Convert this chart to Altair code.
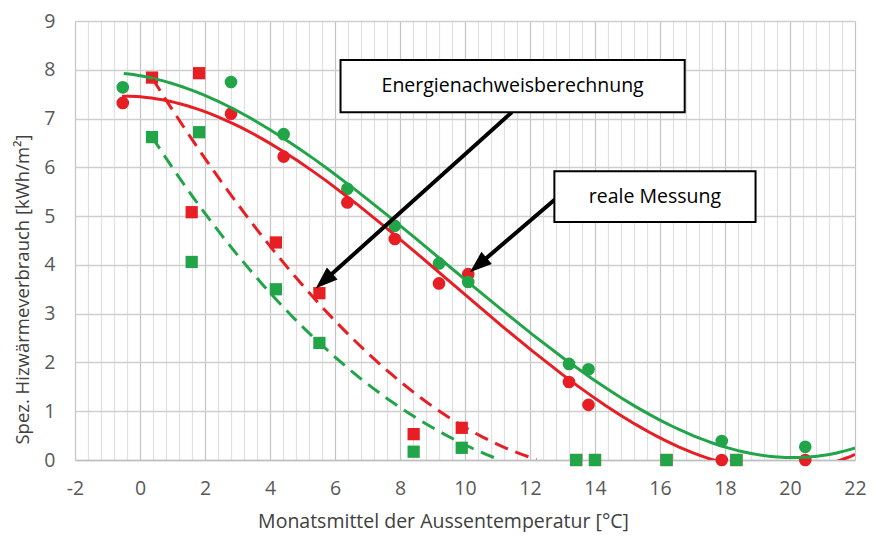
import math
import altair as alt
import pandas as pd

# ---------------- data ----------------
# monthly points "reale Messung" (circles)
meas_x = [-0.53, 2.8, 4.42, 6.38, 7.84, 9.2, 10.1, 13.2, 13.8, 17.9, 20.47]
meas_green = [7.64, 7.75, 6.68, 5.56, 4.8, 4.03, 3.65, 1.97, 1.86, 0.39, 0.27]
meas_red = [7.32, 7.1, 6.22, 5.28, 4.53, 3.62, 3.81, 1.6, 1.13, 0.0, 0.0]

# monthly points "Energienachweisberechnung" (squares)
calc_x = [0.37, 1.82, 1.59, 4.18, 5.52, 8.42, 9.9, 13.42, 14.0, 16.2, 18.35]
calc_green = [6.62, 6.72, 4.06, 3.5, 2.4, 0.17, 0.25, 0.0, 0.0, 0.0, 0.0]
calc_red = [7.84, 7.93, 5.08, 4.46, 3.42, 0.53, 0.66, 0.0, 0.0, 0.0, 0.0]

# points (smoothed by a cubic regression)
trend_meas_green_x = [-0.5, 0.4, 1.5, 2.8, 3.3, 4.4, 5.5, 6.4, 7.9, 9.2, 10.1, 12.0, 13.2, 14.0, 16.0, 18.0, 19.0, 20.2, 21.0, 22.0]
trend_meas_green_y = [7.89, 7.83, 7.62, 7.22, 7.03, 6.72, 6.17, 5.57, 4.78, 4.05, 3.7, 2.66, 2.0, 1.64, 0.82, 0.27, 0.11, 0.05, 0.09, 0.24]

trend_meas_red_x = [-0.55, 0.4, 1.5, 2.8, 3.8, 4.4, 5.5, 6.4, 7.9, 9.2, 10.1, 11.3, 13.2, 14.0, 16.0, 17.6, 21.6, 22.0]
trend_meas_red_y = [7.4, 7.37, 7.28, 7.12, 6.62, 6.3, 5.76, 5.31, 4.56, 3.83, 3.35, 2.66, 1.6, 1.27, 0.55, 0.0, 0.0, 0.1]

trend_calc_green_x = [0.37, 0.5, 1.4, 2.1, 2.6, 3.94, 5.5, 6.17, 8.53, 9.54, 11.1]
trend_calc_green_y = [6.62, 6.5, 5.6, 4.98, 4.5, 3.48, 2.4, 2.05, 0.82, 0.47, 0.0]

trend_calc_red_x = [0.39, 0.66, 1.4, 2.1, 3.11, 4.0, 5.25, 7.09, 8.84, 10.58, 12.2]
trend_calc_red_y = [7.83, 7.52, 6.75, 6.05, 5.18, 4.45, 3.38, 2.05, 1.23, 0.47, 0.0]

# annotations (data coordinates)
box_text = ["Energienachweisberechnung", "reale Messung"]
box_x1 = [6.17, 12.75]
box_x2 = [16.76, 18.94]
box_y1 = [7.13, 4.88]
box_y2 = [8.2, 5.92]

arrow_x_start = [11.44, 12.82]
arrow_y_start = [7.13, 5.37]
arrow_x_tip = [5.41, 10.15]
arrow_y_tip = [3.52, 3.85]

x_labels = [-2, 0, 2, 4, 6, 8, 10, 12, 14, 16, 18, 20, 22]
y_labels = [0, 1, 2, 3, 4, 5, 6, 7, 8, 9]
x_grid = [round(-2 + 0.4 * i, 1) for i in range(61)]

RED = "#E81E25"
GREEN = "#21A548"
FONT = "Open Sans"
W, H = 780, 439

# ---------------- scales / axes ----------------
xs = alt.Scale(domain=[-2, 22], nice=False, zero=False)
ys = alt.Scale(domain=[0, 9], nice=False, zero=False)

xaxis = alt.Axis(
    values=x_grid,
    labelExpr="datum.value % 2 === 0 ? '' + datum.value : ''",
    labelFlush=False,
    labelOverlap=False,
    labelFont=FONT,
    labelFontSize=19.5,
    labelColor="#595959",
    labelPadding=19,
    ticks=False,
    domain=True,
    domainColor="#bfbfbf",
    domainWidth=1.5,
    grid=True,
    gridColor={"condition": {"test": "datum.value % 2 === 0", "value": "#c4c4c4"}, "value": "#e0e0e0"},
    gridWidth=1.2,
    title="Monatsmittel der Aussentemperatur [°C]",
    titleFont=FONT,
    titleFontSize=19.5,
    titleFontWeight="normal",
    titleColor="#404040",
    titleX=368,
    titleY=67,
    titleBaseline="alphabetic",
    titleAlign="center",
)
yaxis = alt.Axis(
    values=y_labels,
    labelFont=FONT,
    labelFontSize=19.5,
    labelColor="#595959",
    labelPadding=20,
    ticks=False,
    domain=False,
    grid=True,
    gridColor="#cfcfcf",
    gridWidth=1.5,
    title="Spez. Hizwärmeverbrauch [kWh/m²]",
    titleFont=FONT,
    titleFontSize=18.5,
    titleFontWeight="normal",
    titleColor="#404040",
    titleX=-47,
    titleY=268,
    titleAngle=270,
    titleBaseline="alphabetic",
    titleAlign="center",
)

X = alt.X("x:Q", scale=xs, axis=xaxis)
Y = alt.Y("y:Q", scale=ys, axis=yaxis)


def pts(xv, yv, color, shape, size):
    df = pd.DataFrame({"x": xv, "y": yv})
    return alt.Chart(df).mark_point(
        filled=True, shape=shape, size=size, color=color, opacity=1
    ).encode(x=X, y=Y)


def trend(xv, yv, color, dashed):
    df = pd.DataFrame({"x": xv, "y": yv})
    kw = dict(color=color, strokeWidth=3, clip=True)
    if dashed:
        kw["strokeDash"] = [14, 8]
    return (
        alt.Chart(df)
        .transform_regression("x", "y", method="poly", order=3, extent=[min(xv), max(xv)])
        .mark_line(**kw)
        .encode(x=X, y=Y)
    )


layers = [
    pts(meas_x, meas_red, RED, "circle", 160),
    pts(meas_x, meas_green, GREEN, "circle", 160),
    pts(calc_x, calc_red, RED, "square", 150),
    pts(calc_x, calc_green, GREEN, "square", 150),
    trend(trend_meas_red_x, trend_meas_red_y, RED, False),
    trend(trend_meas_green_x, trend_meas_green_y, GREEN, False),
    trend(trend_calc_red_x, trend_calc_red_y, RED, True),
    trend(trend_calc_green_x, trend_calc_green_y, GREEN, True),
]

# arrows: shaft ends a few pixels before the tip, head sits on the tip
px_x = W / 24.0
px_y = H / 9.0
ar_rows = []
for xs0, ys0, xt, yt in zip(arrow_x_start, arrow_y_start, arrow_x_tip, arrow_y_tip):
    dxp = (xt - xs0) * px_x
    dyp = -(yt - ys0) * px_y
    L = math.hypot(dxp, dyp)
    f = (L - 12) / L
    ang = (math.degrees(math.atan2(dxp, -dyp)) + 360) % 360
    ar_rows.append(dict(x=xs0, y=ys0, x2=xs0 + f * (xt - xs0), y2=ys0 + f * (yt - ys0),
                        xt=xt, yt=yt, ang=ang))
ar = pd.DataFrame(ar_rows)

shaft = alt.Chart(ar).mark_rule(color="black", strokeWidth=4, strokeCap="butt").encode(
    x=X, y=Y, x2="x2:Q", y2="y2:Q"
)
head_path = "M0,0 L0.58,1.6 L-0.58,1.6 Z"
heads = alt.Chart(ar).mark_point(
    shape=head_path, filled=True, color="black", size=760, opacity=1
).encode(
    x=alt.X("xt:Q", scale=xs, axis=xaxis),
    y=alt.Y("yt:Q", scale=ys, axis=yaxis),
    angle=alt.Angle("ang:Q", scale=None),
)

bx = pd.DataFrame({"x": box_x1, "x2": box_x2, "y": box_y1, "y2": box_y2, "t": box_text})
bx["xc"] = (bx["x"] + bx["x2"]) / 2
bx["yc"] = (bx["y"] + bx["y2"]) / 2
boxes = alt.Chart(bx).mark_rect(fill="white", stroke="black", strokeWidth=2).encode(
    x=X, y=Y, x2="x2:Q", y2="y2:Q"
)
texts = alt.Chart(bx).mark_text(font=FONT, fontSize=19.5, color="black", baseline="middle", align="center").encode(
    x=alt.X("xc:Q", scale=xs, axis=xaxis),
    y=alt.Y("yc:Q", scale=ys, axis=yaxis),
    text="t:N",
)

chart = alt.layer(*layers, shaft, heads, boxes, texts).properties(
    width=W,
    height=H,
    autosize=alt.AutoSizeParams(type="none"),
    padding={"left": 67, "top": 13, "right": 11, "bottom": 72},
    background="white",
).configure_view(strokeWidth=0)

chart.save("out.html", embed_options={"renderer": "svg", "actions": False})
